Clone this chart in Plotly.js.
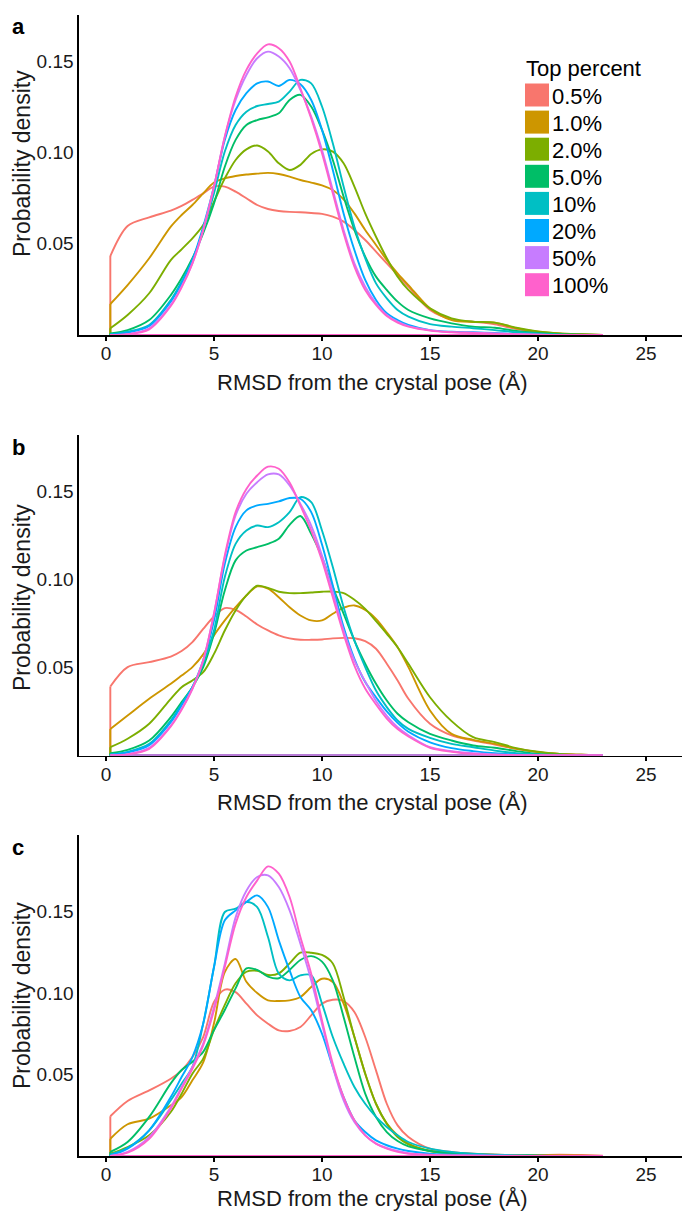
<!DOCTYPE html>
<html>
<head>
<meta charset="utf-8">
<script src="https://cdn.plot.ly/plotly-3.0.1.min.js"></script>
<style>
  html, body { margin: 0; padding: 0; background: #fff; }
  #chart { width: 682px; height: 1211px; }
</style>
</head>
<body>
<div id="chart"></div>
<script>
// RMSD grid (Å) shared by every density curve
const rmsd = [0.2, 1, 2, 3, 3.5, 4, 4.5, 5, 5.5, 6, 6.5, 7, 7.5, 8, 8.5, 9, 9.5, 10,
              10.5, 11, 11.5, 12, 12.5, 13, 13.5, 14, 15, 16, 17, 18, 19, 20, 21, 22, 23];

const groups = ['0.5%', '1.0%', '2.0%', '5.0%', '10%', '20%', '50%', '100%'];
const colors = ['#F8766D', '#CD9600', '#7CAE00', '#00BE67', '#00BFC4', '#00A9FF', '#C77CFF', '#FF61CC'];
const xTicks = [0, 5, 10, 15, 20, 25];
const yTicks = [0.05, 0.10, 0.15];
const yTickText = ['0.05', '0.10', '0.15'];
const panelLetters = ['a', 'b', 'c'];
const xTitle = 'RMSD from the crystal pose (Å)';
const yTitle = 'Probability density';
const legendTitle = 'Top percent';

// Panel a
const aTop0_5 = [0.0433, 0.0598, 0.0645, 0.0682, 0.0708, 0.0741, 0.0777, 0.0814, 0.0814, 0.0786, 0.075, 0.0713, 0.0691, 0.068, 0.0675, 0.0673, 0.0669, 0.0664, 0.0649, 0.0622, 0.0576, 0.0521, 0.0457, 0.0393, 0.0329, 0.0265, 0.0137, 0.0086, 0.0073, 0.0059, 0.0033, 0.0016, 0.0007, 0.0002, 0];
const aTop1   = [0.017, 0.0274, 0.0421, 0.0594, 0.0658, 0.0713, 0.0777, 0.0836, 0.0859, 0.0872, 0.088, 0.0885, 0.0889, 0.0883, 0.0869, 0.085, 0.0836, 0.0821, 0.0795, 0.0744, 0.0667, 0.0576, 0.0494, 0.0411, 0.0338, 0.0274, 0.0146, 0.0082, 0.0071, 0.0068, 0.0037, 0.0018, 0.0009, 0.0004, 0];
const aTop2   = [0.0037, 0.011, 0.0229, 0.0411, 0.047, 0.053, 0.0603, 0.0731, 0.0859, 0.096, 0.1018, 0.1039, 0.1006, 0.0942, 0.0905, 0.0933, 0.0993, 0.1018, 0.1006, 0.0942, 0.0814, 0.0667, 0.0539, 0.0421, 0.032, 0.0247, 0.0146, 0.0091, 0.0073, 0.0068, 0.004, 0.002, 0.0009, 0.0004, 0];
const aTop5   = [0.0009, 0.0027, 0.0082, 0.0219, 0.0311, 0.0421, 0.0558, 0.0722, 0.0923, 0.107, 0.1152, 0.1179, 0.1194, 0.1216, 0.1289, 0.1317, 0.1253, 0.1125, 0.096, 0.0759, 0.0576, 0.043, 0.032, 0.0247, 0.0183, 0.0137, 0.0091, 0.0064, 0.0046, 0.004, 0.0022, 0.0011, 0.0004, 0.0002, 0];
const aTop10  = [0.0004, 0.0018, 0.0055, 0.0192, 0.0293, 0.0411, 0.0576, 0.0777, 0.1006, 0.1152, 0.1225, 0.1256, 0.1267, 0.128, 0.1335, 0.1399, 0.138, 0.1253, 0.1051, 0.0814, 0.0594, 0.0421, 0.0283, 0.0201, 0.0137, 0.0101, 0.006, 0.0046, 0.0037, 0.0027, 0.0015, 0.0007, 0.0002, 0, 0];
const aTop20  = [0.0002, 0.0013, 0.0049, 0.0183, 0.0283, 0.0411, 0.0594, 0.0814, 0.107, 0.1234, 0.1326, 0.138, 0.139, 0.1366, 0.1399, 0.1375, 0.1289, 0.1125, 0.0905, 0.0667, 0.0466, 0.0302, 0.0192, 0.0119, 0.0082, 0.0055, 0.0027, 0.0018, 0.0015, 0.0011, 0.0005, 0.0002, 0, 0, 0];
const aTop50  = [0, 0.0005, 0.0037, 0.0165, 0.0265, 0.0393, 0.0576, 0.0814, 0.1088, 0.1289, 0.1426, 0.1518, 0.1554, 0.1527, 0.1463, 0.1344, 0.1198, 0.1015, 0.0795, 0.0576, 0.0393, 0.0265, 0.0174, 0.011, 0.0073, 0.0049, 0.0027, 0.0016, 0.0013, 0.0009, 0.0005, 0.0002, 0, 0, 0];
const aTop100 = [0, 0.0004, 0.0031, 0.0159, 0.0261, 0.0393, 0.0576, 0.0814, 0.1088, 0.1307, 0.1454, 0.1545, 0.1594, 0.1573, 0.15, 0.1353, 0.1188, 0.0997, 0.0777, 0.0558, 0.0375, 0.0247, 0.0165, 0.0104, 0.0068, 0.0046, 0.0024, 0.0015, 0.0011, 0.0007, 0.0004, 0.0002, 0, 0, 0];

// Panel b
const bTop0_5 = [0.0392, 0.0502, 0.053, 0.0562, 0.0593, 0.0644, 0.0719, 0.0789, 0.0837, 0.0827, 0.0789, 0.0744, 0.071, 0.0682, 0.0665, 0.0657, 0.0657, 0.0659, 0.0665, 0.0668, 0.0666, 0.0649, 0.0606, 0.0521, 0.0426, 0.0322, 0.018, 0.0114, 0.0085, 0.0062, 0.0038, 0.0019, 0.0009, 0.0004, 0];
const bTop1   = [0.0151, 0.0227, 0.0322, 0.0407, 0.0454, 0.0502, 0.0574, 0.0682, 0.0767, 0.0842, 0.0909, 0.096, 0.0947, 0.0899, 0.0842, 0.0795, 0.0767, 0.0767, 0.0805, 0.0839, 0.0852, 0.0827, 0.0776, 0.07, 0.0615, 0.0502, 0.0256, 0.0123, 0.0089, 0.0066, 0.0038, 0.0019, 0.0009, 0.0004, 0];
const bTop2   = [0.0047, 0.0095, 0.018, 0.0322, 0.0388, 0.0426, 0.0473, 0.0577, 0.071, 0.0824, 0.0909, 0.0964, 0.0952, 0.093, 0.0922, 0.0922, 0.0926, 0.093, 0.0931, 0.0922, 0.0884, 0.0833, 0.0763, 0.0691, 0.0615, 0.0521, 0.0331, 0.0195, 0.0104, 0.0076, 0.0042, 0.0021, 0.0009, 0.0004, 0];
const bTop5   = [0.0013, 0.0032, 0.0085, 0.0218, 0.0303, 0.0388, 0.0502, 0.0691, 0.0937, 0.1108, 0.1164, 0.1183, 0.1202, 0.1231, 0.131, 0.136, 0.1259, 0.1126, 0.0956, 0.0805, 0.0653, 0.0521, 0.0407, 0.0312, 0.0237, 0.0189, 0.0123, 0.0085, 0.0057, 0.0044, 0.0025, 0.0009, 0.0004, 0.0002, 0];
const bTop10  = [0.0006, 0.0021, 0.0066, 0.0199, 0.0293, 0.0388, 0.0521, 0.071, 0.1013, 0.1202, 0.1278, 0.1306, 0.1297, 0.1325, 0.1382, 0.1467, 0.1439, 0.1278, 0.107, 0.0842, 0.0653, 0.0502, 0.0369, 0.0275, 0.0199, 0.0151, 0.01, 0.0066, 0.0047, 0.0028, 0.0013, 0.0006, 0.0002, 0, 0];
const bTop20  = [0.0004, 0.0017, 0.0059, 0.0189, 0.0284, 0.0388, 0.054, 0.0767, 0.1089, 0.1297, 0.1392, 0.142, 0.1429, 0.1443, 0.1462, 0.1458, 0.1382, 0.1198, 0.0966, 0.0729, 0.0549, 0.0417, 0.0331, 0.025, 0.0185, 0.0135, 0.0075, 0.0042, 0.0025, 0.0013, 0.0006, 0.0002, 0, 0, 0];
const bTop50  = [0, 0.0008, 0.0044, 0.017, 0.0265, 0.0379, 0.054, 0.0805, 0.1126, 0.1363, 0.1486, 0.1552, 0.1596, 0.1596, 0.1534, 0.1429, 0.1306, 0.1136, 0.0928, 0.071, 0.054, 0.042, 0.031, 0.0225, 0.016, 0.0115, 0.0047, 0.0025, 0.0013, 0.0006, 0.0002, 0, 0, 0, 0];
const bTop100 = [0, 0.0006, 0.0038, 0.0165, 0.0259, 0.0379, 0.054, 0.0805, 0.1136, 0.1382, 0.1514, 0.159, 0.164, 0.1628, 0.155, 0.1419, 0.1278, 0.1108, 0.0899, 0.069, 0.051, 0.038, 0.029, 0.021, 0.015, 0.0108, 0.0044, 0.0021, 0.0009, 0.0004, 0.0002, 0, 0, 0, 0];

// Panel c
const cTop0_5 = [0.0244, 0.0338, 0.0403, 0.0475, 0.0526, 0.0608, 0.0731, 0.0946, 0.1022, 0.1007, 0.0936, 0.0864, 0.0813, 0.0772, 0.0768, 0.0792, 0.0864, 0.0936, 0.096, 0.0952, 0.0885, 0.0731, 0.0526, 0.0321, 0.0188, 0.0117, 0.0045, 0.0025, 0.0014, 0.0008, 0.0006, 0.0006, 0.0008, 0.0006, 0.0002];
const cTop1   = [0.0106, 0.0195, 0.0229, 0.0311, 0.0362, 0.0465, 0.0575, 0.0815, 0.113, 0.121, 0.107, 0.1001, 0.0956, 0.0952, 0.0956, 0.0977, 0.1038, 0.1089, 0.1069, 0.0936, 0.0731, 0.0506, 0.0321, 0.0199, 0.0127, 0.0076, 0.0031, 0.0018, 0.0012, 0.0008, 0.0006, 0.0004, 0.0004, 0.0002, 0];
const cTop2   = [0.0014, 0.0055, 0.0127, 0.027, 0.0383, 0.0506, 0.0598, 0.0774, 0.0928, 0.1061, 0.1132, 0.1138, 0.1112, 0.1122, 0.1183, 0.1249, 0.1249, 0.1235, 0.1183, 0.0977, 0.0731, 0.0506, 0.0321, 0.0199, 0.0117, 0.0072, 0.0031, 0.0016, 0.001, 0.0006, 0.0004, 0.0002, 0.0001, 0, 0];
const cTop5   = [0.0025, 0.0086, 0.024, 0.0446, 0.0528, 0.0579, 0.064, 0.0774, 0.0897, 0.103, 0.1153, 0.1143, 0.1102, 0.1092, 0.1143, 0.1204, 0.1228, 0.1194, 0.1079, 0.0854, 0.0608, 0.0383, 0.024, 0.0147, 0.0092, 0.0059, 0.0031, 0.0018, 0.001, 0.0006, 0.0004, 0.0002, 0, 0, 0];
const cTop10  = [0.001, 0.0051, 0.0158, 0.0342, 0.0444, 0.0547, 0.0813, 0.1161, 0.1499, 0.1519, 0.156, 0.1529, 0.1345, 0.112, 0.1079, 0.111, 0.111, 0.0936, 0.0731, 0.0567, 0.0424, 0.0321, 0.024, 0.0178, 0.0127, 0.0086, 0.0045, 0.0025, 0.0014, 0.0008, 0.0004, 0.0002, 0, 0, 0];
const cTop20  = [0.0004, 0.0045, 0.0158, 0.0362, 0.0485, 0.0608, 0.0813, 0.1161, 0.1448, 0.1509, 0.156, 0.1601, 0.1529, 0.1325, 0.114, 0.0977, 0.0895, 0.0751, 0.0547, 0.0362, 0.0219, 0.0147, 0.0096, 0.0066, 0.0045, 0.0031, 0.0014, 0.0008, 0.0004, 0.0002, 0, 0, 0, 0, 0];
const cTop50  = [0, 0.0025, 0.0117, 0.0301, 0.0424, 0.0547, 0.069, 0.0915, 0.118, 0.1466, 0.163, 0.1714, 0.1724, 0.1652, 0.1509, 0.1304, 0.1079, 0.0813, 0.0547, 0.0342, 0.0209, 0.0127, 0.0076, 0.0049, 0.0031, 0.0018, 0.0008, 0.0004, 0.0004, 0.0002, 0.0002, 0, 0, 0, 0];
const cTop100 = [0, 0.002, 0.0106, 0.0291, 0.0414, 0.0536, 0.068, 0.0895, 0.1161, 0.1427, 0.1591, 0.1693, 0.1779, 0.1734, 0.1591, 0.1345, 0.112, 0.0833, 0.0567, 0.0362, 0.0219, 0.0127, 0.0076, 0.0045, 0.0025, 0.0014, 0.0006, 0.0004, 0.0002, 0, 0, 0, 0, 0, 0];

const panels = [
  [aTop0_5, aTop1, aTop2, aTop5, aTop10, aTop20, aTop50, aTop100],
  [bTop0_5, bTop1, bTop2, bTop5, bTop10, bTop20, bTop50, bTop100],
  [cTop0_5, cTop1, cTop2, cTop5, cTop10, cTop20, cTop50, cTop100]
];

// ---- page geometry (px) ----
const W = 682, H = 1211;
const ML = 79;                        // left edge of every panel
const plotW = W - ML;
const panelTop = [15, 435, 835];      // top of each panel
const panelBot = [335, 755.5, 1156];  // x-axis line of each panel
const xTitleY = [383, 802, 1198];     // centre of the x-axis titles
const yTitleY = [164, 598, 996];      // centre of the y-axis titles
const yMax = [0.1755, 0.182, 0.1972];
const font = 'Liberation Sans, Arial, Helvetica, sans-serif';
const ink = '#1a1a1a';

const px2paperX = p => (p - ML) / plotW;
const px2paperY = p => 1 - p / H;

// Every density outline: the smooth estimate, plus the straight left edge
// and the zero line underneath it.
const traces = [];
panels.forEach((series, p) => {
  const sfx = p === 0 ? '' : String(p + 1);
  const x0 = rmsd[0], x1 = rmsd[rmsd.length - 1];
  series.forEach((vals, i) => {
    traces.push({
      type: 'scatter', mode: 'lines', name: groups[i], legendgroup: groups[i],
      x: rmsd, y: vals,
      xaxis: 'x' + sfx, yaxis: 'y' + sfx,
      line: { color: colors[i], width: 1.9, shape: 'spline', smoothing: 0.9 },
      showlegend: false, hoverinfo: 'x+y+name'
    });
    traces.push({
      type: 'scatter', mode: 'lines', name: groups[i], legendgroup: groups[i],
      x: [x1, x0, x0], y: [0, 0, vals[0]],
      xaxis: 'x' + sfx, yaxis: 'y' + sfx,
      line: { color: colors[i], width: 1.9, shape: 'linear' },
      showlegend: false, hoverinfo: 'skip'
    });
  });
});

const layout = {
  width: W, height: H,
  margin: { l: ML, r: 0, t: 0, b: 0, pad: 0 },
  paper_bgcolor: '#fff', plot_bgcolor: '#fff',
  font: { family: font, color: ink },
  showlegend: false,
  shapes: [],
  annotations: []
};

panels.forEach((_, p) => {
  const sfx = p === 0 ? '' : String(p + 1);
  layout['xaxis' + sfx] = {
    domain: [0, 1], anchor: 'y' + sfx,
    range: [-1.25, 26.667],
    tickmode: 'array', tickvals: xTicks,
    ticks: 'outside', ticklen: 4, tickwidth: 1.3, tickcolor: '#000',
    ticklabelstandoff: -3,
    showline: true, linecolor: '#000', linewidth: 1.6,
    showgrid: false, zeroline: false, automargin: false,
    tickfont: { family: font, size: 19, color: ink }
  };
  layout['yaxis' + sfx] = {
    domain: [px2paperY(panelBot[p]), px2paperY(panelTop[p])], anchor: 'x' + sfx,
    range: [0, yMax[p]],
    tickmode: 'array', tickvals: yTicks, ticktext: yTickText,
    ticks: '', showline: true, linecolor: '#000', linewidth: 1.6,
    showgrid: false, zeroline: false, automargin: false,
    tickfont: { family: font, size: 19, color: ink }
  };
  // axis titles
  layout.annotations.push({
    text: xTitle, xref: 'paper', yref: 'paper',
    x: px2paperX(372), y: px2paperY(xTitleY[p]),
    xanchor: 'center', yanchor: 'middle', showarrow: false,
    font: { family: font, size: 22, color: ink }
  });
  layout.annotations.push({
    text: yTitle, xref: 'paper', yref: 'paper', textangle: -90,
    x: px2paperX(22), y: px2paperY(yTitleY[p]),
    xanchor: 'center', yanchor: 'middle', showarrow: false,
    font: { family: font, size: 23, color: ink }
  });
  // panel letter
  layout.annotations.push({
    text: '<b>' + panelLetters[p] + '</b>',
    xref: 'paper', yref: 'paper',
    x: px2paperX(18), y: px2paperY(panelTop[p] + 12),
    xanchor: 'center', yanchor: 'middle', showarrow: false,
    font: { family: font, size: 22, color: '#000' }
  });
});

// legend of panel a: filled swatches with labels
const legTop = 95, legStep = 27.1, swW = 24, swH = 23, swX = 525;
layout.annotations.push({
  text: legendTitle, xref: 'paper', yref: 'paper',
  x: px2paperX(524), y: px2paperY(68), xanchor: 'left', yanchor: 'middle',
  showarrow: false, font: { family: font, size: 22, color: '#000' }
});
groups.forEach((g, i) => {
  const cy = legTop + i * legStep;
  layout.shapes.push({
    type: 'rect', xref: 'paper', yref: 'paper',
    x0: px2paperX(swX), x1: px2paperX(swX + swW),
    y0: px2paperY(cy + swH / 2), y1: px2paperY(cy - swH / 2),
    fillcolor: colors[i], line: { width: 0 }
  });
  layout.annotations.push({
    text: g, xref: 'paper', yref: 'paper',
    x: px2paperX(swX + swW + 1), y: px2paperY(cy + 1), xanchor: 'left', yanchor: 'middle',
    showarrow: false, font: { family: font, size: 22, color: '#000' }
  });
});

Plotly.newPlot('chart', traces, layout, { staticPlot: true, displayModeBar: false });
</script>
</body>
</html>
